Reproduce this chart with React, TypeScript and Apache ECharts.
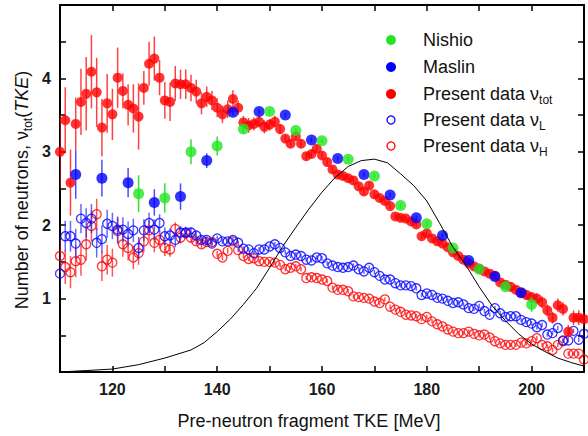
import React, { useEffect, useRef } from "react";
import * as echarts from "echarts";

// Pre-neutron fragment total kinetic energy grid (MeV)
const tke = [
  110, 111, 112, 113, 114, 115, 116, 117, 118, 119, 120, 121, 122, 123, 124, 125, 126, 127, 128, 129,
  130, 131, 132, 133, 134, 135, 136, 137, 138, 139, 140, 141, 142, 143, 144, 145, 146, 147, 148, 149,
  150, 151, 152, 153, 154, 155, 156, 157, 158, 159, 160, 161, 162, 163, 164, 165, 166, 167, 168, 169,
  170, 171, 172, 173, 174, 175, 176, 177, 178, 179, 180, 181, 182, 183, 184, 185, 186, 187, 188, 189,
  190, 191, 192, 193, 194, 195, 196, 197, 198, 199, 200, 201, 202, 203, 204, 205, 206, 207, 208, 209, 210,
];

// Present data: total neutron multiplicity
const nuTot = [
  3.0, 3.43, 2.58, 3.38, 3.68, 3.79, 4.09, 3.81, 3.33, 3.66, 3.51, 4.01, 3.83, 3.64, 3.59, 3.48, 3.87, 4.2, 4.27, 4.01,
  3.7, 3.68, 3.93, 3.92, 3.92, 3.87, 3.82, 3.66, 3.75, 3.7, 3.6, 3.51, 3.58, 3.72, 3.6, 3.4, 3.36, 3.38, 3.41, 3.34,
  3.37, 3.41, 3.31, 3.18, 3.11, 3.21, 3.11, 2.94, 2.97, 3.04, 2.95, 2.86, 2.76, 2.69, 2.67, 2.64, 2.61, 2.53, 2.46, 2.54,
  2.42, 2.37, 2.33, 2.26, 2.12, 2.1, 2.09, 2.05, 2.01, 1.85, 1.89, 1.82, 1.78, 1.75, 1.7, 1.63, 1.58, 1.53, 1.48, 1.44,
  1.41, 1.37, 1.34, 1.31, 1.22, 1.19, 1.16, 1.12, 1.08, 1.05, 1.02, 1.0, 0.95, 0.84, 0.74, 0.91, 0.86, 0.55, 0.74, 0.74, 0.72,
];
const nuTotErr = [
  0.5, 0.45, 0.45, 0.36, 0.45, 0.5, 0.5, 0.47, 0.39, 0.4, 0.35, 0.41, 0.24, 0.28, 0.33, 0.45, 0.23, 0.3, 0.3, 0.24,
  0.25, 0.26, 0.24, 0.2, 0.2, 0.18, 0.16, 0.15, 0.14, 0.13, 0.13, 0.12, 0.12, 0.12, 0.1, 0.09, 0.1, 0.09, 0.08, 0.09,
  0.08, 0.08, 0.07, 0.05, 0.05, 0.05, 0.05, 0.05, 0.05, 0.05, 0.05, 0.05, 0.05, 0.05, 0.05, 0.05, 0.05, 0.05, 0.05, 0.05,
  0.05, 0.04, 0.04, 0.04, 0.04, 0.04, 0.04, 0.04, 0.04, 0.04, 0.04, 0.04, 0.04, 0.04, 0.04, 0.04, 0.04, 0.04, 0.04, 0.04,
  0.04, 0.04, 0.04, 0.04, 0.04, 0.04, 0.06, 0.06, 0.06, 0.07, 0.07, 0.07, 0.08, 0.08, 0.08, 0.09, 0.09, 0.09, 0.1, 0.1, 0.1,
];

// Present data: light-fragment multiplicity
const nuL = [
  1.34, 1.85, 1.85, 1.75, 2.09, 2.03, 2.09, 1.76, 1.81, 2.02, 1.99, 1.94, 1.94, 1.88, 1.93, 1.69, 1.93, 2.03, 1.94, 2.03,
  1.85, 1.86, 1.8, 1.9, 1.9, 1.9, 1.86, 1.8, 1.8, 1.75, 1.82, 1.78, 1.78, 1.8, 1.76, 1.68, 1.67, 1.62, 1.67, 1.67,
  1.71, 1.74, 1.69, 1.63, 1.58, 1.6, 1.58, 1.53, 1.52, 1.56, 1.55, 1.48, 1.45, 1.43, 1.42, 1.43, 1.45, 1.4, 1.37, 1.42,
  1.36, 1.31, 1.26, 1.26, 1.21, 1.18, 1.18, 1.17, 1.14, 1.05, 1.07, 1.05, 1.01, 1.0, 0.97, 0.94, 0.95, 0.92, 0.87, 0.86,
  0.9, 0.83, 0.78, 0.87, 0.8, 0.75, 0.76, 0.76, 0.71, 0.68, 0.66, 0.61, 0.64, 0.51, 0.53, 0.6, 0.43, 0.43, 0.56, 0.44, 0.52,
];
const nuLErr = [
  0.22, 0.21, 0.21, 0.2, 0.2, 0.2, 0.2, 0.2, 0.19, 0.19, 0.18, 0.18, 0.17, 0.17, 0.16, 0.15, 0.15, 0.14, 0.14, 0.12,
  0.12, 0.1, 0.1, 0.09, 0.08, 0.07, 0.06, 0.06, 0.05, 0.05, 0.04, 0.04, 0.04, 0.03, 0.03, 0.03, 0.03, 0.03, 0.03, 0.03,
  0.03, 0.03, 0.03, 0.03, 0.03, 0.03, 0.03, 0.03, 0.03, 0.03, 0.03, 0.03, 0.03, 0.03, 0.03, 0.03, 0.03, 0.03, 0.03, 0.03,
  0.03, 0.03, 0.03, 0.03, 0.03, 0.03, 0.03, 0.03, 0.03, 0.03, 0.03, 0.03, 0.03, 0.03, 0.03, 0.03, 0.03, 0.03, 0.03, 0.03,
  0.03, 0.03, 0.03, 0.03, 0.03, 0.03, 0.03, 0.03, 0.03, 0.03, 0.03, 0.03, 0.03, 0.03, 0.03, 0.03, 0.03, 0.03, 0.03, 0.03, 0.03,
];

// Present data: heavy-fragment multiplicity
const nuH = [
  1.58, 1.43, 1.36, 1.51, 1.53, 1.74, 1.99, 2.15, 1.44, 1.53, 1.49, 1.92, 1.74, 1.69, 1.56, 1.62, 1.78, 1.93, 1.76, 1.8,
  1.69, 1.67, 1.95, 1.83, 1.89, 1.83, 1.78, 1.74, 1.77, 1.77, 1.61, 1.56, 1.65, 1.78, 1.66, 1.58, 1.54, 1.55, 1.51, 1.5,
  1.5, 1.49, 1.46, 1.4, 1.42, 1.44, 1.4, 1.28, 1.29, 1.28, 1.26, 1.24, 1.15, 1.12, 1.12, 1.1, 1.03, 1.02, 1.01, 1.0,
  0.96, 0.94, 0.99, 0.89, 0.85, 0.82, 0.78, 0.77, 0.76, 0.72, 0.75, 0.69, 0.65, 0.62, 0.58, 0.55, 0.53, 0.53, 0.55, 0.52,
  0.5, 0.51, 0.47, 0.42, 0.39, 0.37, 0.37, 0.37, 0.4, 0.39, 0.42, 0.46, 0.37, 0.35, 0.3, 0.37, 0.42, 0.25, 0.25, 0.25, 0.17,
];
const nuHErr = [
  0.23, 0.23, 0.22, 0.22, 0.22, 0.22, 0.21, 0.21, 0.2, 0.2, 0.19, 0.18, 0.17, 0.17, 0.16, 0.16, 0.15, 0.14, 0.13, 0.12,
  0.11, 0.1, 0.09, 0.08, 0.07, 0.06, 0.05, 0.05, 0.05, 0.04, 0.04, 0.04, 0.04, 0.03, 0.03, 0.03, 0.03, 0.03, 0.03, 0.03,
  0.03, 0.03, 0.03, 0.03, 0.03, 0.03, 0.03, 0.03, 0.03, 0.03, 0.03, 0.03, 0.03, 0.03, 0.03, 0.03, 0.03, 0.03, 0.03, 0.03,
  0.03, 0.03, 0.03, 0.03, 0.03, 0.03, 0.03, 0.03, 0.03, 0.03, 0.03, 0.03, 0.03, 0.03, 0.03, 0.03, 0.03, 0.03, 0.03, 0.03,
  0.03, 0.03, 0.03, 0.03, 0.03, 0.03, 0.03, 0.03, 0.03, 0.03, 0.03, 0.03, 0.03, 0.03, 0.03, 0.03, 0.03, 0.03, 0.03, 0.03, 0.03,
];

// Nishio et al.
const nishioTke = [125, 130, 135, 140, 145, 150, 155, 160, 165, 170, 175, 180, 185, 190, 195, 200];
const nishioNu = [2.43, 2.37, 3.0, 3.08, 3.31, 3.55, 3.29, 3.15, 2.9, 2.67, 2.27, 2.02, 1.69, 1.4, 1.16, 0.92];
const nishioErr = [0.25, 0.2, 0.17, 0.13, 0.06, 0.03, 0.03, 0.03, 0.03, 0.03, 0.03, 0.03, 0.03, 0.03, 0.03, 0.1];

// Maslin et al.
const maslinTke = [113, 118, 123, 128, 133, 138, 143, 148, 153, 158, 163, 168, 173, 178, 183, 188, 193, 198];
const maslinNu = [2.69, 2.64, 2.58, 2.31, 2.39, 2.88, 3.54, 3.55, 3.5, 3.16, 2.91, 2.69, 2.41, 2.1, 1.86, 1.52, 1.3, 1.08];
const maslinErr = [0.33, 0.25, 0.2, 0.18, 0.18, 0.1, 0.05, 0.03, 0.03, 0.03, 0.03, 0.03, 0.03, 0.03, 0.03, 0.03, 0.03, 0.03];

// TKE yield distribution (arbitrary scale)
const yieldTke = [
  110, 115, 120, 125, 130, 135, 137.5, 140, 142.5, 145, 147.5, 150, 152.5, 155, 157.5, 160, 162.5, 165, 167.5, 170,
  172.5, 175, 177.5, 180, 182.5, 185, 187.5, 190, 192.5, 195, 197.5, 200, 202.5, 205, 207.5, 210,
];
const yieldVal = [
  0.0, 0.02, 0.04, 0.1, 0.19, 0.3, 0.4, 0.55, 0.72, 0.92, 1.14, 1.42, 1.71, 1.97, 2.22, 2.45, 2.65, 2.8, 2.88, 2.9,
  2.85, 2.7, 2.54, 2.33, 2.02, 1.7, 1.45, 1.16, 0.9, 0.7, 0.52, 0.38, 0.28, 0.19, 0.13, 0.08,
];

const xLabels = [120, 140, 160, 180, 200];
const yLabels = [1, 2, 3, 4];

const FONT = "'Liberation Sans', Arial, Helvetica, sans-serif";
const RED = "#ff0000";
const BLUE = "#0000ff";
const GREEN = "#22e622";
const INK = "#111";

const pairs = (xs: number[], ys: number[]) => xs.map((x, i) => [x, ys[i]]);

function errorBars(xs: number[], ys: number[], errs: number[], color: string, z: number) {
  return {
    type: "custom",
    silent: true,
    z,
    clip: true,
    encode: { x: 0, y: [1, 2] },
    data: xs.map((x, i) => [x, ys[i] - errs[i], ys[i] + errs[i]]),
    renderItem: (_p: any, api: any) => {
      const lo = api.coord([api.value(0), api.value(1)]);
      const hi = api.coord([api.value(0), api.value(2)]);
      return {
        type: "line",
        shape: { x1: lo[0], y1: lo[1], x2: hi[0], y2: hi[1] },
        style: { stroke: color, lineWidth: 1.5 },
      };
    },
  };
}

const richText = {
  m: { fontSize: 18, fontFamily: FONT, fill: INK, lineHeight: 24, verticalAlign: "middle" },
  i: { fontSize: 18, fontFamily: FONT, fontStyle: "italic", fill: INK, lineHeight: 24, verticalAlign: "middle" },
  s: { fontSize: 12, fontFamily: FONT, fill: INK, lineHeight: 12, verticalAlign: "bottom" },
};

function legendRow(y: number, kind: "fill" | "open", color: string, rich: string) {
  const marker =
    kind === "fill"
      ? { type: "circle", shape: { cx: 391, cy: y, r: 5 }, style: { fill: color } }
      : { type: "circle", shape: { cx: 391, cy: y, r: 4 }, style: { fill: "none", stroke: color, lineWidth: 1.3 } };
  return [
    marker,
    {
      type: "text",
      x: 423,
      y,
      style: { text: rich, verticalAlign: "middle", align: "left", rich: richText },
    },
  ];
}

export default function App() {
  const ref = useRef<HTMLDivElement>(null);

  useEffect(() => {
    document.body.style.margin = "0";
    const chart = echarts.init(ref.current!, null, { renderer: "svg" });

    const axisLine = { show: true, onZero: false, lineStyle: { color: "#000", width: 2 } };
    const tick = { show: true, inside: true, length: 6, lineStyle: { color: "#000", width: 1.5 } };
    const xBase = {
      type: "value",
      min: 110,
      max: 210,
      interval: 10,
      axisLine,
      axisTick: tick,
      splitLine: { show: false },
    };
    const yBase = {
      type: "value",
      min: 0,
      max: 5,
      interval: 0.5,
      axisLine,
      axisTick: tick,
      splitLine: { show: false },
    };
    const tickLabel = {
      margin: 9,
      fontSize: 16,
      fontWeight: "bold",
      fontFamily: FONT,
      color: "#1a1a1a",
    };

    chart.setOption({
      animation: false,
      backgroundColor: "#fff",
      grid: { left: 60, right: 4, top: 5, bottom: 64 },
      xAxis: [
        {
          ...xBase,
          position: "bottom",
          axisLabel: { ...tickLabel, formatter: (v: number) => (xLabels.includes(v) ? String(v) : "") },
        },
        { ...xBase, position: "top", axisLabel: { show: false } },
      ],
      yAxis: [
        {
          ...yBase,
          position: "left",
          axisLabel: { ...tickLabel, formatter: (v: number) => (yLabels.includes(v) ? String(v) : "") },
        },
        { ...yBase, position: "right", axisLabel: { show: false } },
      ],
      graphic: [
        {
          type: "text",
          x: 309,
          y: 421,
          style: {
            text: "Pre-neutron fragment TKE [MeV]",
            fontSize: 18,
            fontFamily: FONT,
            fill: INK,
            align: "center",
            verticalAlign: "middle",
          },
        },
        {
          type: "text",
          x: 22,
          y: 190,
          rotation: Math.PI / 2,
          style: {
            text: "{m|Number of neutrons, ν}{s|tot}{m|(}{i|TKE}{m|)}",
            align: "center",
            verticalAlign: "middle",
            rich: richText,
          },
        },
        ...legendRow(40, "fill", GREEN, "{m|Nishio}"),
        ...legendRow(67, "fill", BLUE, "{m|Maslin}"),
        ...legendRow(94, "fill", RED, "{m|Present data ν}{s|tot}"),
        ...legendRow(120, "open", BLUE, "{m|Present data ν}{s|L}"),
        ...legendRow(146, "open", RED, "{m|Present data ν}{s|H}"),
      ],
      series: [
        errorBars(tke, nuH, nuHErr, "rgba(255,30,30,0.75)", 2),
        {
          type: "scatter",
          name: "Present data νH",
          data: pairs(tke, nuH),
          symbol: "circle",
          symbolSize: 9,
          itemStyle: { color: "rgba(255,255,255,0)", borderColor: RED, borderWidth: 1.3 },
          z: 3,
        },
        errorBars(tke, nuL, nuLErr, "rgba(40,40,255,0.7)", 4),
        {
          type: "scatter",
          name: "Present data νL",
          data: pairs(tke, nuL),
          symbol: "circle",
          symbolSize: 9,
          itemStyle: { color: "rgba(255,255,255,0)", borderColor: BLUE, borderWidth: 1.3 },
          z: 5,
        },
        errorBars(tke, nuTot, nuTotErr, "rgba(255,20,20,0.8)", 6),
        {
          type: "scatter",
          name: "Present data νtot",
          data: pairs(tke, nuTot),
          symbol: "circle",
          symbolSize: 10,
          itemStyle: { color: RED },
          z: 7,
        },
        errorBars(maslinTke, maslinNu, maslinErr, "rgba(30,30,255,0.8)", 8),
        {
          type: "scatter",
          name: "Maslin",
          data: pairs(maslinTke, maslinNu),
          symbol: "circle",
          symbolSize: 11,
          itemStyle: { color: BLUE },
          z: 9,
        },
        errorBars(nishioTke, nishioNu, nishioErr, "rgba(30,220,30,0.9)", 10),
        {
          type: "scatter",
          name: "Nishio",
          data: pairs(nishioTke, nishioNu),
          symbol: "circle",
          symbolSize: 11,
          itemStyle: { color: GREEN },
          z: 11,
        },
        {
          type: "line",
          name: "TKE yield",
          data: pairs(yieldTke, yieldVal),
          showSymbol: false,
          symbol: "none",
          smooth: false,
          lineStyle: { color: "#000", width: 1 },
          z: 12,
        },
      ],
    });

    return () => chart.dispose();
  }, []);

  return (
    <div
      ref={ref}
      style={{ position: "absolute", left: 0, top: 0, width: 588, height: 436 }}
    />
  );
}
